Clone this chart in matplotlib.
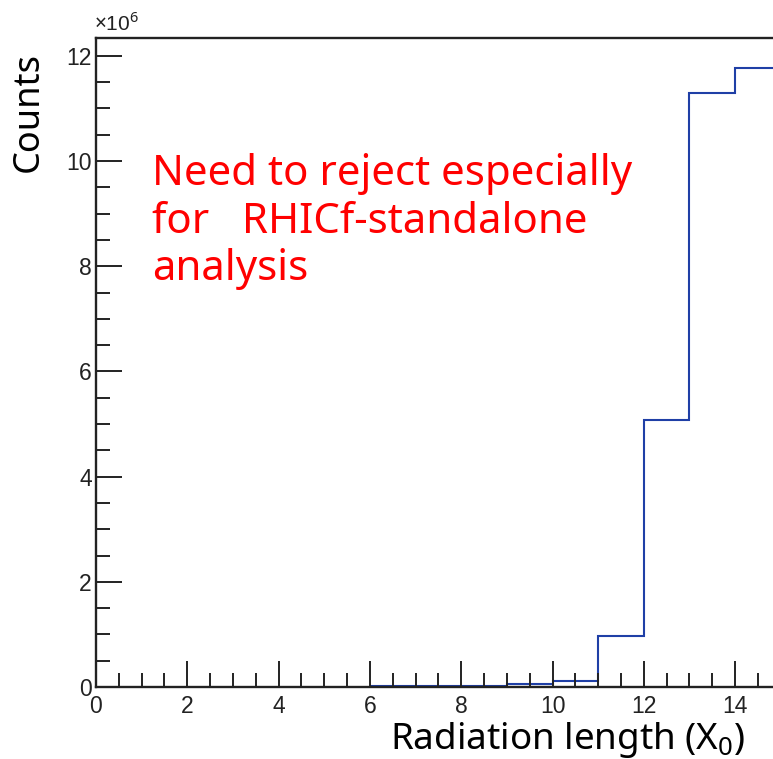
import matplotlib
matplotlib.use("Agg")
import matplotlib.pyplot as plt
import numpy as np
from matplotlib.ticker import MultipleLocator

plt.rcParams['mathtext.fontset'] = 'custom'
plt.rcParams['mathtext.rm'] = 'Noto Sans'
plt.rcParams['mathtext.it'] = 'Noto Sans'

bin_edges = [6, 7, 8, 9, 10, 11, 12, 13, 14, 15]
counts_1e6 = [0.02, 0.02, 0.02, 0.06, 0.12, 0.97, 5.08, 11.29, 11.77]

W, H = 773, 759
fig = plt.figure(figsize=(W/100, H/100), dpi=100)
x0, y0, ytop = 96, 687, 38
ppu = 45.65
xmax = 16
ax = fig.add_axes([x0/W, (H-y0)/H, xmax*ppu/W, (y0-ytop)/H])
ax.set_xlim(0, xmax)
ax.set_ylim(0, 12.34)

ax.stairs(counts_1e6, bin_edges, color='#1f3fa6', lw=1.5, baseline=None)

for s in ['left', 'bottom', 'top']:
    ax.spines[s].set_linewidth(1.7)
    ax.spines[s].set_color('#222222')
ax.spines['right'].set_visible(False)

ax.set_xticks([0, 2, 4, 6, 8, 10, 12, 14])
ax.xaxis.set_minor_locator(MultipleLocator(0.5))
ax.yaxis.set_major_locator(MultipleLocator(2))
ax.yaxis.set_minor_locator(MultipleLocator(0.5))
ax.tick_params(which='both', direction='in', top=False, right=False, color='#222222', width=1.4)
ax.tick_params(which='major', length=19)
ax.tick_params(which='minor', length=10)
ax.tick_params(axis='x', which='major', pad=6, labelsize=16.5)
ax.tick_params(axis='y', which='major', pad=3, labelsize=16.5)
for lab in ax.get_xticklabels() + ax.get_yticklabels():
    lab.set_family('Liberation Sans')
    lab.set_color('#222222')

fig.text(94/W, 1-31/H, r'$\times$10$^{6}$', fontsize=15, family='Liberation Sans', color='#222222', ha='left', va='baseline')

fig.text(29/W, 1-52/H, 'Counts', rotation=90, ha='center', va='top', fontsize=26, family='Noto Sans', color='black')
fig.text(745/W, 1-749/H, r'Radiation length (X$_0$)', ha='right', va='baseline', fontsize=26.5, family='Noto Sans', color='black')

fig.text(152/W, 1-280/H, 'Need to reject especially\nfor   RHICf-standalone\nanalysis', ha='left', va='baseline',
         fontsize=30.2, family='Noto Sans', color='red', linespacing=1.17)

fig.savefig('out.png', dpi=100)
